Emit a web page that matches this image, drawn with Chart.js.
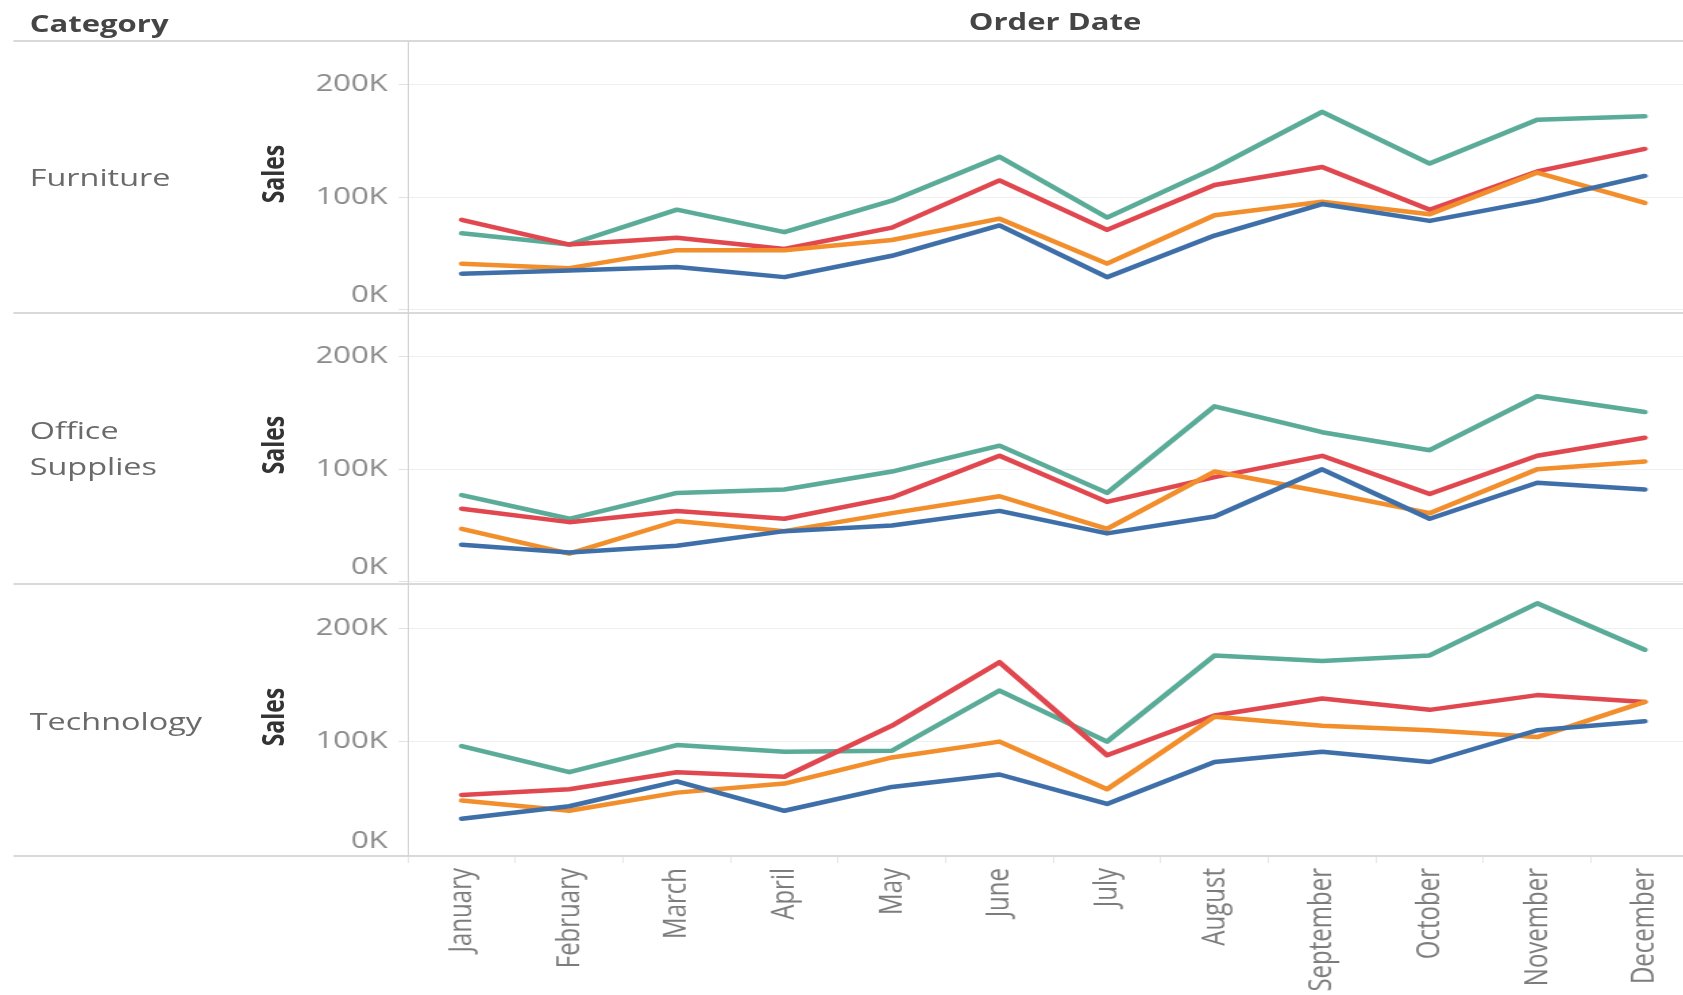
<!DOCTYPE html>
<html>
<head>
<meta charset="utf-8">
<title>Sales by Category and Order Date</title>
<script src="https://cdn.jsdelivr.net/npm/chart.js@4.4.1/dist/chart.umd.min.js"></script>
<style>
  html, body { margin: 0; padding: 0; width: 1683px; height: 995px; overflow: hidden; background: #fff; }
  body { font-family: 'Open Sans', sans-serif; }
  /* the source picture is stretched sideways, so the whole sheet is too */
  #sheet { position: absolute; left: 0; top: 0; width: 1247px; height: 995px; transform: scaleX(1.35); transform-origin: 0 0; }
  .hdr { position: absolute; font-weight: bold; font-size: 23px; color: #454545; line-height: 1; white-space: nowrap; transform: translateY(-50%); }
  .cat { position: absolute; left: 22px; font-size: 24px; color: #6a6a6a; line-height: 36px; transform: translateY(-50%); }
  .axis-title { position: absolute; left: 201.5px; font-weight: bold; font-size: 23px; color: #333; white-space: nowrap; line-height: 1; transform: translate(-50%, -50%) rotate(-90deg); }
  .hline { position: absolute; left: 9.6px; width: 1240px; height: 2px; background: #d9d9d9; }
  .vline { position: absolute; left: 301.6px; top: 41px; width: 1.3px; height: 815px; background: #d4d4d4; }
  .panel { position: absolute; left: 200px; width: 1060.4px; }
</style>
</head>
<body>
<div id="sheet">
  <div class="hdr" style="left:22px; top:23px;">Category</div>
  <div class="hdr" style="left:781.5px; top:21px; transform: translate(-50%, -50%);">Order Date</div>

  <div class="panel" style="top:41px; height:271px;"><canvas id="furnitureChart"></canvas></div>
  <div class="panel" style="top:312.5px; height:271px;"><canvas id="officeChart"></canvas></div>
  <div class="panel" style="top:584px; height:411px;"><canvas id="technologyChart"></canvas></div>

  <div class="cat" style="top:177px;">Furniture</div>
  <div class="cat" style="top:448px;">Office<br>Supplies</div>
  <div class="cat" style="top:721px;">Technology</div>

  <div class="axis-title" style="top:174px;">Sales</div>
  <div class="axis-title" style="top:445px;">Sales</div>
  <div class="axis-title" style="top:717px;">Sales</div>

  <div class="hline" style="top:40px;"></div>
  <div class="hline" style="top:311.5px;"></div>
  <div class="hline" style="top:583px;"></div>
  <div class="hline" style="top:855px;"></div>
  <div class="vline"></div>
</div>

<script>
// Months on the x axis
const months = ["January", "February", "March", "April", "May", "June",
  "July", "August", "September", "October", "November", "December"];

// One line per year, same colour in every panel
const years = ["2014", "2015", "2016", "2017"];
const yearColors = ["#3e6fa8", "#f28e2b", "#e0474f", "#5aab98"];

// Sales in thousands
const furniture2014 = [32, 35, 38, 29, 48, 75, 29, 66, 94, 79, 97, 119];
const furniture2015 = [41, 37, 53, 53, 62, 81, 41, 84, 96, 85, 122, 95];
const furniture2016 = [80, 58, 64, 54, 73, 115, 71, 111, 127, 89, 123, 143];
const furniture2017 = [68, 58, 89, 69, 97, 136, 82, 126, 176, 130, 169, 172];

const office2014 = [33, 26, 32, 45, 50, 63, 43, 58, 100, 56, 88, 82];
const office2015 = [47, 25, 54, 45, 61, 76, 47, 98, 80, 61, 100, 107];
const office2016 = [65, 53, 63, 56, 75, 112, 71, 93, 112, 78, 112, 128];
const office2017 = [77, 56, 79, 82, 98, 121, 79, 156, 133, 117, 165, 151];

const technology2014 = [32, 43, 65, 39, 60, 71, 45, 82, 91, 82, 110, 118];
const technology2015 = [48, 39, 55, 63, 86, 100, 58, 122, 114, 110, 104, 135];
const technology2016 = [53, 58, 73, 69, 114, 170, 88, 123, 138, 128, 141, 135];
const technology2017 = [96, 73, 97, 91, 92, 145, 100, 176, 171, 176, 222, 181];

// Y axis ticks (thousands)
const yTicks = [0, 100, 200];
const yMax = 237;

Chart.defaults.font.family = "'Open Sans', sans-serif";

// Function to create one category panel
function createPanel(canvasId, seriesList, showMonths) {
  const ctx = document.getElementById(canvasId).getContext("2d");

  return new Chart(ctx, {
    type: "line",
    data: {
      labels: months,
      datasets: seriesList.map((values, i) => ({
        label: years[i],
        data: values,
        borderColor: yearColors[i],
        backgroundColor: yearColors[i],
        borderWidth: 4.5,
        borderCapStyle: "round",
        borderJoinStyle: "round",
        pointRadius: 0,
        tension: 0,
        fill: false
      }))
    },
    options: {
      responsive: true,
      maintainAspectRatio: false,
      animation: false,
      layout: { padding: 0 },
      plugins: {
        legend: { display: false },
        tooltip: { enabled: false }
      },
      scales: {
        x: {
          display: showMonths,
          offset: true,
          border: { display: false },
          grid: { drawOnChartArea: false, offset: true, tickLength: 8, color: "#e6e6e6" },
          ticks: {
            autoSkip: false,
            minRotation: 90,
            maxRotation: 90,
            padding: 5,
            color: "#7c7c7c",
            font: { size: 24 }
          },
          afterFit: function (scale) {
            // only the bottom panel keeps room for the month names
            scale.height = showMonths ? 140 : 0;
            scale.paddingLeft = 0;
            scale.paddingRight = 0;
          }
        },
        y: {
          min: 0,
          max: yMax,
          border: { display: false },
          grid: { color: "#efefef", tickLength: 7, tickColor: "#e2e2e2" },
          afterBuildTicks: function (scale) {
            scale.ticks = yTicks.map(v => ({ value: v }));
          },
          ticks: {
            padding: 8,
            color: "#8a8a8a",
            font: { size: 23 },
            // bottom label sits a bit above the zero line
            callback: value => value === 0 ? ["0K", ""] : value + "K"
          },
          afterFit: function (scale) {
            scale.width = 102.2;
            scale.paddingTop = 0;
            scale.paddingBottom = 0;
          }
        }
      }
    }
  });
}

createPanel("furnitureChart", [furniture2014, furniture2015, furniture2016, furniture2017], false);
createPanel("officeChart", [office2014, office2015, office2016, office2017], false);
createPanel("technologyChart", [technology2014, technology2015, technology2016, technology2017], true);
</script>
</body>
</html>
